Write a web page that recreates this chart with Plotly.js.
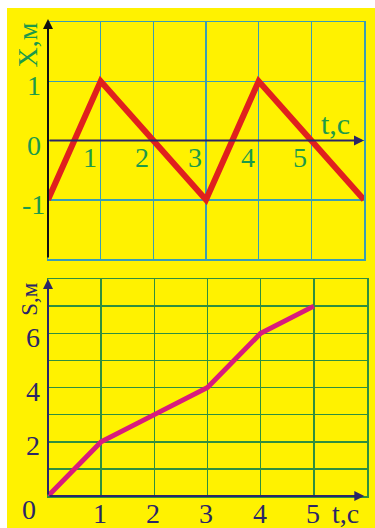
<!DOCTYPE html>
<html><head><meta charset="utf-8">
<script src="https://cdn.plot.ly/plotly-3.0.1.min.js"></script>
<style>
html,body{margin:0;padding:0;background:#fff;width:375px;height:528px;overflow:hidden}
#c{position:absolute;left:7px;top:8px;width:368px;height:520px}
</style></head><body><div id="c"></div>
<script>
// top chart: coordinate X(t)
var tX = [0, 1, 2, 3, 4, 5, 6];
var X = [-1, 1, 0, -1, 1, 0, -1];
// bottom chart: path S(t)
var tS = [0, 1, 2, 3, 4, 5];
var S = [0, 2, 3, 4, 6, 7];
// tick labels
var topXTicks = [1, 2, 3, 4, 5];
var topYTicks = [1, 0, -1];
var botXTicks = [1, 2, 3, 4, 5];
var botYTicks = [2, 4, 6];

var serif = 'Liberation Serif, Times New Roman, serif';
var green = '#1c9a4a', navy = '#2a2668', teal = '#3a9eb4', grid2 = '#2f8f3f';

var traces = [
  {x: tX, y: X, type: 'scatter', mode: 'lines', xaxis: 'x', yaxis: 'y',
   line: {color: '#e0201e', width: 6}, hoverinfo: 'none'},
  {x: tS, y: S, type: 'scatter', mode: 'lines', xaxis: 'x2', yaxis: 'y2',
   line: {color: '#d81b7e', width: 5}, hoverinfo: 'none'}
];

var AX = {
  top: {xd: [0, 0.9906], xr: [0, 6], yd: [0.5, 1], yr: [-2, 2]},
  bot: {xd: [0, 1], xr: [0, 6], yd: [0, 0.4578], yr: [0, 8]}
};
function px(p, x) { var a = AX[p]; return a.xd[0] + (x - a.xr[0]) / (a.xr[1] - a.xr[0]) * (a.xd[1] - a.xd[0]); }
function py(p, y) { var a = AX[p]; return a.yd[0] + (y - a.yr[0]) / (a.yr[1] - a.yr[0]) * (a.yd[1] - a.yd[0]); }

var ann = [];
function lab(txt, p, x, y, col, size, angle) {
  ann.push({text: txt, x: px(p, x), y: py(p, y), xref: 'paper', yref: 'paper', showarrow: false,
    xanchor: 'center', yanchor: 'middle', textangle: angle || 0,
    font: {family: serif, size: size, color: col}});
}
function arrow(x, y, ax, ay, xr, yr, col) {
  ann.push({text: '', x: x, y: y, ax: ax, ay: ay, xref: xr, yref: yr, axref: xr, ayref: yr,
    showarrow: true, arrowhead: 2, arrowsize: 1, arrowwidth: 2, arrowcolor: col});
}
// top axes arrows
arrow(0, 2.05, 0, -2, 'x', 'y', '#111');
arrow(6, 0, 0, 0, 'x', 'y', navy);
// bottom axes arrows
arrow(0, 8, 0, 0, 'x2', 'y2', navy);
arrow(5.95, 0, 0, 0, 'x2', 'y2', navy);

topXTicks.forEach(function (v) { lab(String(v), 'top', v - 0.21, -0.29, green, 28); });
topYTicks.forEach(function (v) { lab(String(v), 'top', -0.27, v - 0.08, green, 28); });
lab('t,с', 'top', 5.45, 0.29, green, 30);
lab('X,м', 'top', -0.38, 1.62, green, 28, -90);

botXTicks.forEach(function (v) { lab(String(v), 'bot', v - 0.02, -0.64, navy, 28); });
botYTicks.forEach(function (v) { lab(String(v), 'bot', -0.28, v - 0.15, navy, 28); });
lab('0', 'bot', -0.36, -0.5, navy, 28);
lab('t,с', 'bot', 5.59, -0.64, navy, 28);
lab('S,м', 'bot', -0.34, 7.27, navy, 23, -90);

var layout = {
  width: 368, height: 520,
  margin: {l: 41, r: 8, t: 14, b: 32, pad: 0},
  paper_bgcolor: '#fff200', plot_bgcolor: '#fff200',
  showlegend: false,
  xaxis: {domain: AX.top.xd, range: AX.top.xr, dtick: 1, tick0: 0, showticklabels: false,
    showgrid: true, gridcolor: teal, gridwidth: 1.5, zeroline: false,
    showline: true, linecolor: teal, linewidth: 1.5, mirror: true, ticks: '', anchor: 'y', fixedrange: true},
  yaxis: {domain: AX.top.yd, range: AX.top.yr, dtick: 1, showticklabels: false,
    showgrid: true, gridcolor: teal, gridwidth: 1.5, zeroline: false,
    showline: true, linecolor: teal, linewidth: 1.5, mirror: true, ticks: '', anchor: 'x', fixedrange: true},
  xaxis2: {domain: AX.bot.xd, range: AX.bot.xr, dtick: 1, tick0: 0, showticklabels: false,
    showgrid: true, gridcolor: grid2, gridwidth: 1.5, zeroline: false,
    showline: true, linecolor: grid2, linewidth: 1.5, mirror: true, ticks: '', anchor: 'y2', fixedrange: true},
  yaxis2: {domain: AX.bot.yd, range: AX.bot.yr, dtick: 1, showticklabels: false,
    showgrid: true, gridcolor: grid2, gridwidth: 1.5, zeroline: false,
    showline: true, linecolor: grid2, linewidth: 1.5, mirror: true, ticks: '', anchor: 'x2', fixedrange: true},
  annotations: ann
};
Plotly.newPlot('c', traces, layout, {staticPlot: true, displayModeBar: false});
</script></body></html>
